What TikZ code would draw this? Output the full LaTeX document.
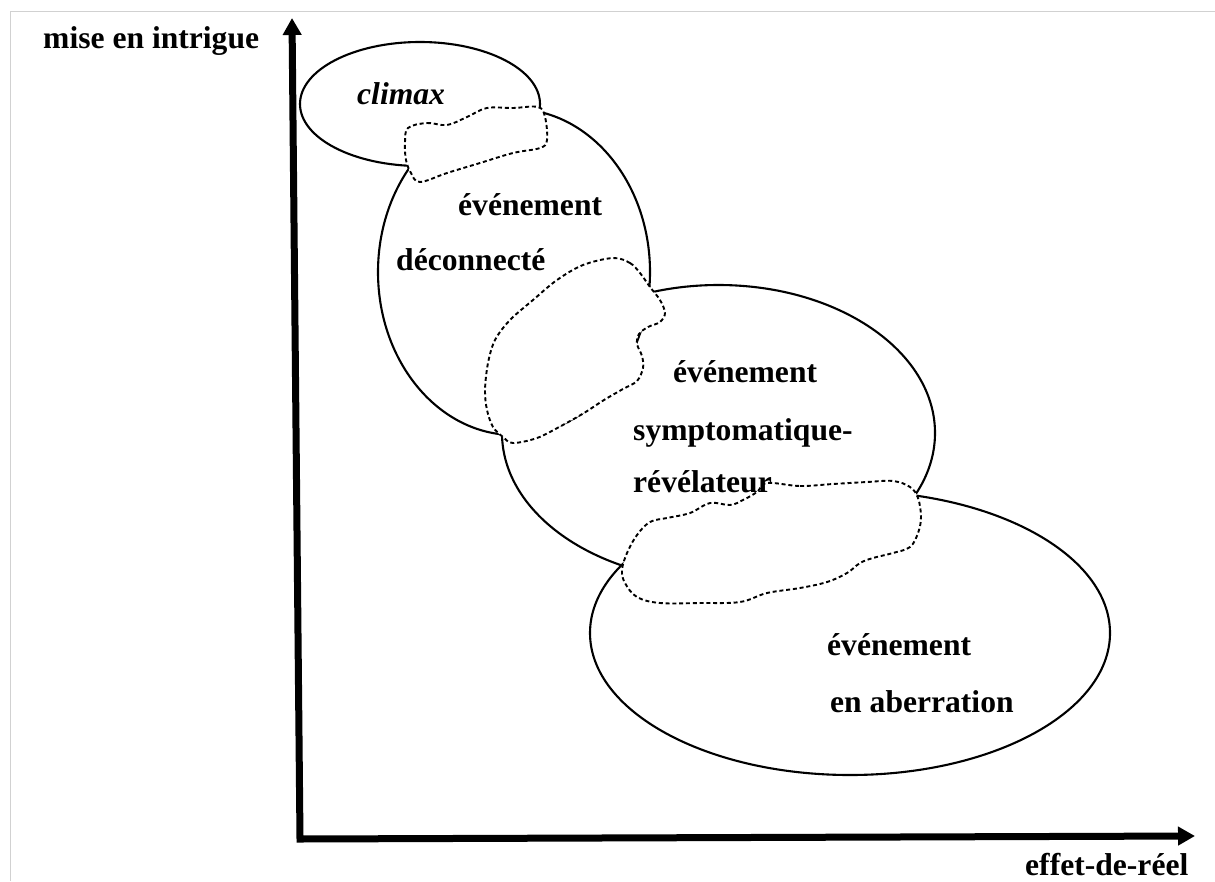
\documentclass[tikz,border=0pt]{standalone}
\usepackage{fontspec}
\setmainfont{Liberation Serif}
\usetikzlibrary{arrows.meta}
\begin{document}
\begin{tikzpicture}[x=1pt,y=-1pt,
  oval/.style={draw=black, line width=2.1pt},
  blob/.style={draw=black, fill=white, line width=1.9pt, dash pattern=on 4pt off 2.8pt},
  lbl/.style={anchor=base west, inner sep=0pt, font=\fontsize{31.6}{38}\selectfont\bfseries},
  axis/.style={line width=7pt, line join=miter, {Triangle[length=17pt,width=18pt]}-{Triangle[length=17pt,width=18pt]}}]
\useasboundingbox (0,0) rectangle (1215,881);
\draw[black!18, line width=1pt] (10,881) -- (10,11.5) -- (1215,11.5);
% axes
\coordinate (ytop) at (292,18);
\coordinate (corner) at (300,839);
\coordinate (xend) at (1195,836);
\draw[axis] (ytop) -- (corner) -- (xend);
% ellipses
\draw[oval] (420,104) ellipse [x radius=120, y radius=62];
\draw[oval] (514,272) ellipse [x radius=136, y radius=163];
\draw[oval] (718.5,433) ellipse [x radius=216.5, y radius=148];
\draw[oval] (850,633) ellipse [x radius=260, y radius=142];
% overlap blobs
\draw[blob] plot[smooth cycle, tension=0.6] coordinates {(408,128) (427,123) (447,125) (467,117) (487,108) (513,108) (538,107) (545,117) (547,140) (540,148) (513,153) (480,163) (447,173) (420,182) (411,173) (406,160) (405,143)};
\draw[blob] plot[smooth cycle, tension=0.55] coordinates {(613,258) (630,263) (640,273) (650,287) (660,300) (665,313) (660,322) (648,327) (639,334) (637,344) (642,356) (643,368) (637,381) (623,389) (604,400) (584,413) (561,426) (537,438) (513,443) (503,437) (493,427) (487,410) (485,390) (488,363) (495,340) (510,320) (533,300) (557,280) (583,265)};
\draw[blob] plot[smooth cycle, tension=0.6] coordinates {(767,483) (800,486) (833,484) (867,482) (893,481) (910,487) (918,498) (921,517) (918,533) (910,547) (893,553) (873,558) (860,563) (847,573) (827,582) (800,588) (767,593) (740,602) (700,603) (660,603) (637,597) (625,583) (622,570) (627,553) (637,535) (650,522) (667,518) (690,513) (710,503) (730,505) (743,500) (757,492)};
% labels
\node[lbl] (yl) at (43,48) {mise en intrigue};
\node[lbl] (cl) at (357,104) {\itshape climax};
\node[lbl] (d1) at (458,215) {événement};
\node[lbl] (d2) at (396,270) {déconnecté};
\node[lbl] (s1) at (673,382) {événement};
\node[lbl] (s2) at (633,440) {symptomatique-};
\node[lbl] (s3) at (633,492) {révélateur};
\node[lbl] (a1) at (827,655) {événement};
\node[lbl] (a2) at (830,712) {en aberration};
\node[lbl] (xl) at (1025,875) {effet-de-réel};
\end{tikzpicture}
\end{document}
